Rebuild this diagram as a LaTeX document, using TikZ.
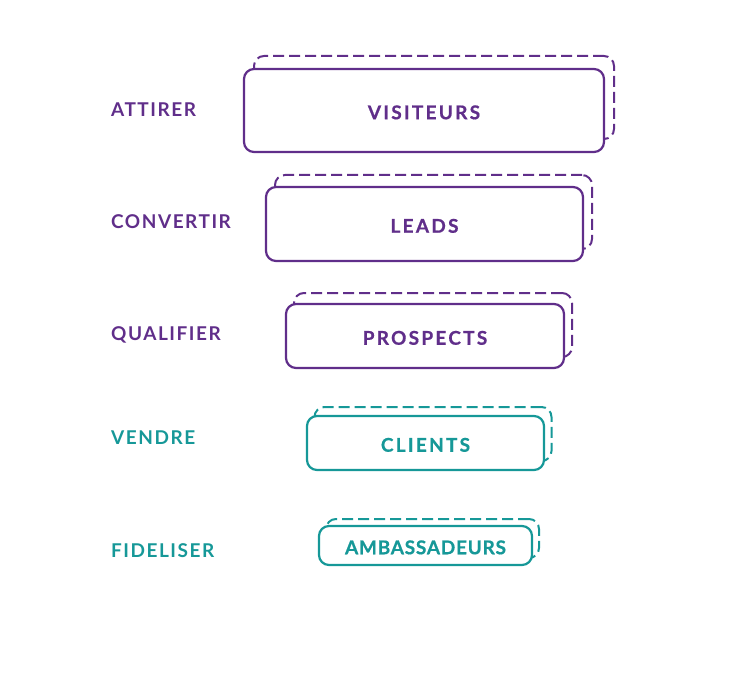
\documentclass[tikz,border=0pt]{standalone}
\usepackage{fontspec}
\setmainfont{Lato}[LetterSpace=8]
\newfontfamily\boxfont{Lato}[FakeBold=0.6]
\usepackage{xcolor}
\definecolor{funnelpurple}{RGB}{96,46,138}
\definecolor{funnelteal}{RGB}{22,152,152}

\begin{document}
\begin{tikzpicture}[x=1pt,y=-1pt,
    stagebox/.style={draw=#1,text=#1,line width=2.2pt,rounded corners=10pt,fill=white,inner sep=0pt,
      text height=17.5pt,text depth=0pt,font=\boxfont\bfseries\fontsize{19}{22}\selectfont},
    stageshadow/.style={draw=#1,line width=2pt,dash pattern=on 11pt off 5pt,rounded corners=10pt,inner sep=0pt},
    stagelabel/.style={text=#1,anchor=west,inner sep=0pt,font=\bfseries\fontsize{19}{22}\selectfont}]
  \useasboundingbox (0,0) rectangle (753,690);
  % funnel stages, from the widest to the narrowest
  \foreach \i/\cx/\cy/\w/\h/\dx/\dy/\ly/\col/\ls/\stage/\name in {
      1/424/110.5/360/83/10/13/110/funnelpurple/12/ATTIRER/VISITEURS,
      2/424.5/224/317/74/9/12/222/funnelpurple/12/CONVERTIR/LEADS,
      3/425/336/278/64/8/11/335/funnelpurple/12/QUALIFIER/PROSPECTS,
      4/425.5/443/237/54/7.5/9/438/funnelteal/12/VENDRE/CLIENTS,
      5/425.5/545.5/213/39/7/7/551/funnelteal/4/FIDELISER/AMBASSADEURS}
  {
    \node[stageshadow=\col,minimum width=\w pt,minimum height=\h pt] (shadow\i) at (\cx+\dx,\cy-\dy) {};
    \node[stagebox=\col,minimum width=\w pt,minimum height=\h pt] (box\i) at (\cx,\cy)
      {\addfontfeature{LetterSpace=\ls}\name};
    \node[stagelabel=\col] (stage\i) at (111,\ly) {\stage};
  }
\end{tikzpicture}
\end{document}
